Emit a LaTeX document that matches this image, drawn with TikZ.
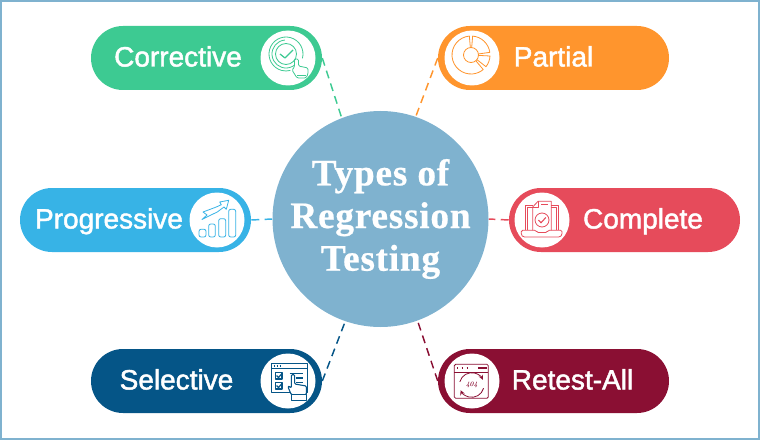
\documentclass[tikz,border=0pt]{standalone}
\usepackage{fontspec}
\newfontfamily\pillfont[FakeBold=1.6]{Liberation Sans}
\newfontfamily\titlefont[LetterSpace=2.0,FakeBold=0.6]{Liberation Serif Bold}
\usetikzlibrary{calc}

\definecolor{framecol}{HTML}{7FB2CF}
\definecolor{greencol}{HTML}{3DCA92}
\definecolor{orangecol}{HTML}{FF952D}
\definecolor{bluecol}{HTML}{37B3E6}
\definecolor{redcol}{HTML}{E64B5B}
\definecolor{navycol}{HTML}{055587}
\definecolor{maroncol}{HTML}{8A0F33}

\tikzset{
	pillbox/.style={fill=#1, rounded corners=24pt, minimum width=173.25pt, minimum height=48pt, inner sep=0pt},
	iconcircle/.style={circle, fill=white, minimum size=41.25pt, inner sep=0pt},
	pilltext/.style={anchor=base, text=white, font=\pillfont\fontsize{21}{24}\selectfont, inner sep=0pt},
	linkline/.style={draw=#1, line width=1.1pt, dash pattern=on 6pt off 4pt},
	iconline/.style={draw=#1, line width=0.6pt, line join=round}
}

\begin{document}
\begin{tikzpicture}[x=0.75pt, y=0.75pt]

	\useasboundingbox (0,0) rectangle (760,440);
	\draw [framecol, line width=1.5pt] (1,1) rectangle (759,439);

	% the round title
	\node (regression) [circle, fill=framecol, minimum size=162pt, inner sep=0pt] at (380.5,221) {};
	\node (title) [text=white, align=center, inner sep=0pt, font=\titlefont\fontsize{28}{32}\selectfont] at (380.5,221) {Types of\\Regression\\Testing};

	% pills
	\node (corrective) [pillbox=greencol] at (206.5,382) {};
	\node (partial) [pillbox=orangecol] at (553.5,382) {};
	\node (progressive) [pillbox=bluecol] at (135.5,220) {};
	\node (complete) [pillbox=redcol] at (624.5,220) {};
	\node (selective) [pillbox=navycol] at (206.5,59) {};
	\node (retest) [pillbox=maroncol] at (553.5,59) {};

	\node (correctivetext) [pilltext] at (178,373.5) {Corrective};
	\node (partialtext) [pilltext] at (553.5,373.5) {Partial};
	\node (progressivetext) [pilltext] at (109,211.5) {Progressive};
	\node (completetext) [pilltext] at (643,211.5) {Complete};
	\node (selectivetext) [pilltext] at (176.5,50.5) {Selective};
	\node (retesttext) [pilltext] at (572.5,50.5) {Retest-All};

	% dashed links
	\draw [linkline=greencol] (corrective.east) -- (regression.111);
	\draw [linkline=orangecol] (partial.west) -- (regression.71);
	\draw [linkline=bluecol] (progressive.east) -- (regression.west);
	\draw [linkline=redcol] (complete.west) -- (regression.east);
	\draw [linkline=navycol] (selective.east) -- (regression.-109);
	\draw [linkline=maroncol] (retest.west) -- (regression.-70);

	% icon discs
	\node (correctiveicon) [iconcircle] at (288,382) {};
	\node (partialicon) [iconcircle] at (472,382) {};
	\node (progressiveicon) [iconcircle] at (217,220) {};
	\node (completeicon) [iconcircle] at (542,220) {};
	\node (selectiveicon) [iconcircle] at (288,59) {};
	\node (retesticon) [iconcircle] at (472,59) {};

	% ring with check and hand
	\begin{scope}[shift={(correctiveicon.center)}, iconline=greencol]
		\draw (-2,4) ++(-15:17) arc (-15:285:17);
		\draw (-2,4) ++(95:14) arc (95:320:14);
		\draw (-2,4) circle (10.5);
		\draw [line width=0.9pt] (-8,4) -- (-3,0) -- (5,8);
		\draw [fill=white, rounded corners=1pt] (6.5,-1) -- (10.5,-1) -- (10.5,-8) -- (20,-10) -- (20,-16) -- (18,-20) -- (9,-20) -- (4,-12) -- (6.5,-9) -- cycle;
		\draw (9,-17) -- (18,-17);
	\end{scope}

	% donut
	\begin{scope}[shift={(partialicon.center)}, iconline=orangecol]
		\draw (-1,3) circle (7.5);
		\draw (-1,3) ++(95:7.5) -- ++(95:11.5) arc (95:310:19) -- ++(130:11.5);
		\draw (-1,3) ++(85:7.5) -- ++(85:11.5) arc (85:8:19) -- ++(188:11.5);
		\draw (-1,3) ++(-3:7.5) -- ++(-3:11.5) arc (-3:-38:19) -- ++(142:11.5);
	\end{scope}

	% rising bars
	\begin{scope}[shift={(progressiveicon.center)}, iconline=bluecol]
		\draw [rounded corners=1.5pt] (-18,-17) rectangle (-11,-9.3);
		\draw [rounded corners=1.5pt] (-8.3,-17) rectangle (-1.7,-4);
		\draw [rounded corners=1.5pt] (1.7,-17) rectangle (8.7,1.3);
		\draw [rounded corners=1.5pt] (11.7,-17) rectangle (18.7,10.7);
		\draw (-14,8) -- (-0.7,13) -- (4.3,15.3) -- (2.7,18) -- (11.7,19.7) -- (9.3,10.7) -- (7,13) -- (0.3,8) -- (-6,5) -- (-15,0.5) -- (-10,5) -- cycle;
	\end{scope}

	% laptop and sheet
	\begin{scope}[shift={(completeicon.center)}, iconline=redcol]
		\draw (-9.3,14.7) -- (-16.7,14.7) -- (-16.7,-10.3);
		\draw (9.3,14.7) -- (16.7,14.7) -- (16.7,-10.3);
		\draw (-9.3,12.7) -- (-14.3,12.7) -- (-14.3,-10.3);
		\draw (9.3,12.7) -- (14.3,12.7) -- (14.3,-10.3);
		\draw [rounded corners=1pt] (-20.7,-10.3) -- (-6,-10.3) -- (-5,-12.5) -- (5,-12.5) -- (6,-10.3) -- (20,-10.3) -- (20,-15) -- (18,-17) -- (-18.7,-17) -- (-20.7,-15) -- cycle;
		\draw (-9.3,-10.3) -- (-9.3,13) -- (-4,18.7) -- (9.3,18.7) -- (9.3,-10.3);
		\draw (-4,18.7) -- (-4,13) -- (-9.3,13);
		\draw (-1,15.5) -- (6,15.5);
		\draw (0,0) circle (7);
		\draw [line width=0.8pt] (-3.5,0) -- (-1,-2.8) -- (3.8,2.5);
	\end{scope}

	% window, ticks and hand
	\begin{scope}[shift={(selectiveicon.center)}, iconline=navycol]
		\draw [line width=0.8pt] (-16.7,-11.3) rectangle (19.3,17.3);
		\draw (-16.7,13) -- (19.3,13);
		\draw [line width=0.8pt] (-14.5,15) -- (-13,15) (-11.5,15) -- (-10,15) (-8.5,15) -- (-7,15);
		\draw [line width=0.8pt] (-12.7,2) rectangle (-6,8.7);
		\draw [line width=0.8pt] (-12.7,-8) rectangle (-6,-1.3);
		\draw [line width=0.9pt] (-11.5,5.5) -- (-9.5,3.5) -- (-5.5,8);
		\draw [line width=0.9pt] (-11.5,-4.5) -- (-9.5,-6.5) -- (-5.5,-2);
		\draw [line width=0.8pt] (1.7,7.3) -- (15,7.3) (8,3) -- (15,3) (8,-1.3) -- (15,-1.3);
		\draw [fill=white, line width=0.8pt, rounded corners=0.8pt] (3.3,-13.7) -- (0,-6) -- (1,-5) -- (3.3,-7) -- (3.3,6.3) -- (6.7,6.3) -- (6.7,-3) -- (18.3,-5) -- (18.3,-13.7) -- cycle;
		\draw [fill=white, line width=0.8pt] (3.3,-13.7) rectangle (18.3,-19.7);
	\end{scope}

	% window with round arrows
	\begin{scope}[shift={(retesticon.center)}, iconline=maroncol]
		\draw [rounded corners=1pt] (-17.7,-17.3) rectangle (16.3,16.7);
		\draw (-17.7,8.7) -- (16.3,8.7);
		\draw [line width=0.9pt] (-15,13) -- (-13.6,13) (-10.4,13) -- (-9,13) (-5.4,13) -- (-4,13) (6.3,13) -- (14.7,13);
		\draw [->, >=stealth] (-0.3,-4) ++(165:12.3) arc (165:25:12.3);
		\draw [->, >=stealth] (-0.3,-4) ++(-15:12.3) arc (-15:-155:12.3);
		\node (errortext) [inner sep=0pt, text=maroncol, font=\itshape\bfseries\fontsize{5}{5}\selectfont] at (-0.3,-4) {404};
	\end{scope}
\end{tikzpicture}
\end{document}
